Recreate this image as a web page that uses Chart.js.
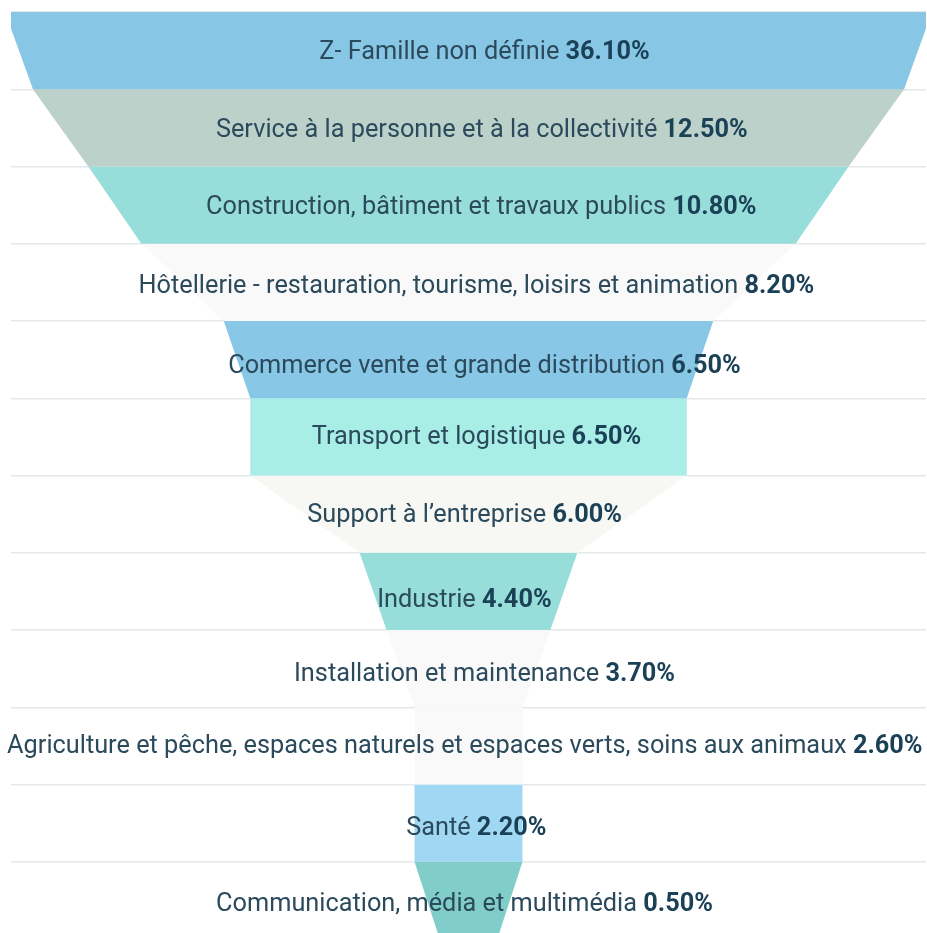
<!DOCTYPE html>
<html>
<head>
<meta charset="utf-8">
<script src="https://cdn.jsdelivr.net/npm/chart.js@4.4.1/dist/chart.umd.min.js"></script>
<style>
  html, body { margin: 0; padding: 0; background: #ffffff; overflow: hidden; }
  #wrap { position: relative; width: 927px; height: 940px; }
</style>
</head>
<body>
<div id="wrap"><canvas id="c"></canvas></div>
<script>
// ---- data ----
const categories = [
  "Z- Famille non définie",
  "Service à la personne et à la collectivité",
  "Construction, bâtiment et travaux publics",
  "Hôtellerie - restauration, tourisme, loisirs et animation",
  "Commerce vente et grande distribution",
  "Transport et logistique",
  "Support à l’entreprise",
  "Industrie",
  "Installation et maintenance",
  "Agriculture et pêche, espaces naturels et espaces verts, soins aux animaux",
  "Santé",
  "Communication, média et multimédia"
];
const shares = [36.1, 12.5, 10.8, 8.2, 6.5, 6.5, 6.0, 4.4, 3.7, 2.6, 2.2, 0.5];
// funnel outline: width (in % of the full funnel width) at each slice boundary, top to bottom
const funnelWidths = [101.3, 95.2, 83.1, 71.5, 53.5, 47.7, 47.7, 23.8, 17.9, 11.8, 11.8, 11.8, 6.3];

// ---- styling ----
const sliceColors = [
  "#87c7e5", "#bcd1ca", "#97ddd9", "#f9f9f9", "#88c7e6", "#a8ede6",
  "#f7f7f4", "#97ddd9", "#f9f9f9", "#f9f9f9", "#a0d8f4", "#80cdc9"
];
// small per-label text nudges (px) as seen in the reference layout
const labelNudgeX = [16, 13.3, 12.7, 7.8, 16, 8, -3.9, -4.1, 16, -3.7, 7.8, -4];
const labelNudgeY = [-0.9, 0, -0.3, 1.6, 4.2, -2.2, -0.9, 6.4, 3, -2.2, 2.9, 2.1];

// ---- build datasets: one closed trapezoid per slice ----
const datasets = categories.map((name, i) => {
  const t = funnelWidths[i] / 2, b = funnelWidths[i + 1] / 2;
  return {
    label: name,
    data: [
      { x: -t, y: i }, { x: t, y: i },
      { x: b, y: i + 1 }, { x: -b, y: i + 1 }, { x: -t, y: i }
    ],
    showLine: true,
    fill: 'shape',
    backgroundColor: sliceColors[i],
    borderWidth: 0,
    pointRadius: 0,
    pointHoverRadius: 0,
    tension: 0,
    clip: 0
  };
});

const FONT = "Roboto, 'Noto Sans', sans-serif";
const FONT_SIZE = 25.3;

const labelPlugin = {
  id: 'funnelLabels',
  afterDatasetsDraw(chart) {
    const { ctx, scales: { x, y } } = chart;
    ctx.save();
    ctx.textBaseline = 'alphabetic';
    ctx.textAlign = 'left';
    categories.forEach((name, i) => {
      const cx = x.getPixelForValue(0) + labelNudgeX[i];
      const cy = y.getPixelForValue(i + 0.5) + labelNudgeY[i];
      const normal = name + ' ';
      const bold = shares[i].toFixed(2) + '%';
      ctx.font = `400 ${FONT_SIZE}px ${FONT}`;
      const w1 = ctx.measureText(normal).width;
      ctx.font = `700 ${FONT_SIZE}px ${FONT}`;
      const w2 = ctx.measureText(bold).width;
      const x0 = cx - (w1 + w2) / 2;
      const base = cy + 9;
      ctx.font = `400 ${FONT_SIZE}px ${FONT}`;
      ctx.fillStyle = '#2b4a5c';
      ctx.fillText(normal, x0, base);
      ctx.font = `700 ${FONT_SIZE}px ${FONT}`;
      ctx.fillStyle = '#1b4157';
      ctx.fillText(bold, x0 + w1, base);
    });
    ctx.restore();
  }
};

new Chart(document.getElementById('c'), {
  type: 'scatter',
  data: { datasets },
  options: {
    responsive: true,
    maintainAspectRatio: false,
    animation: false,
    layout: { padding: { left: 11, right: 1, top: 12, bottom: 1 } },
    plugins: { legend: { display: false }, tooltip: { enabled: false } },
    scales: {
      x: {
        type: 'linear', min: -50, max: 50,
        display: true,
        grid: { display: false, drawTicks: false },
        border: { display: false },
        ticks: { display: false }
      },
      y: {
        type: 'linear', min: 0, max: 12, reverse: true,
        display: true,
        afterBuildTicks(scale) {
          scale.ticks = categories.map((_, i) => ({ value: i })).concat([{ value: categories.length }]);
        },
        grid: { color: '#e3e8ec', lineWidth: 1.5, drawTicks: false },
        border: { display: false },
        ticks: { display: false }
      }
    }
  },
  plugins: [labelPlugin]
});
</script>
</body>
</html>
